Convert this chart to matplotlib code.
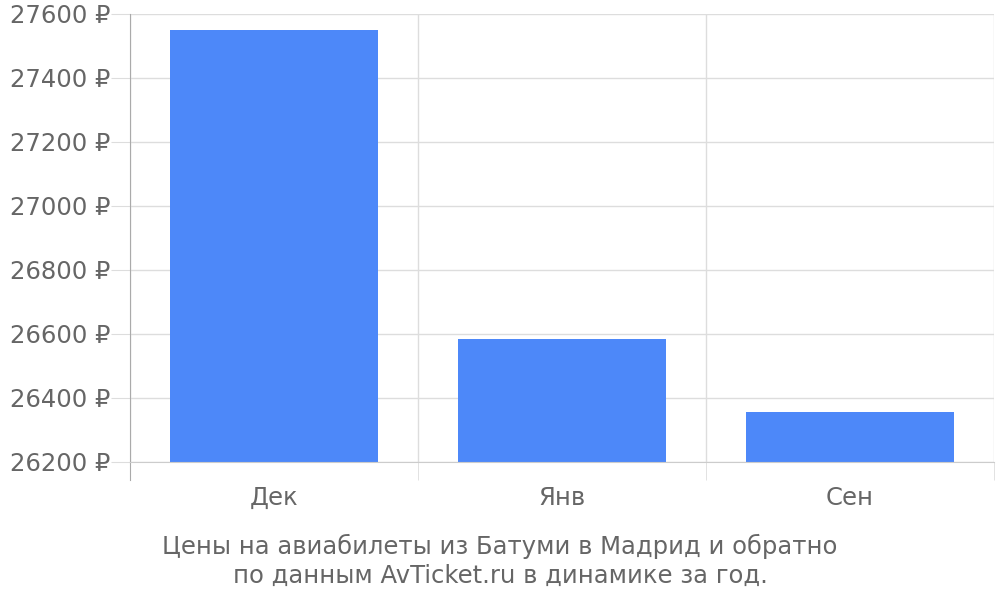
import matplotlib
matplotlib.use('Agg')
import matplotlib.pyplot as plt
from matplotlib.ticker import FuncFormatter, FixedLocator

# data
months = ['Дек', 'Янв', 'Сен']
prices = [27550, 26584, 26356]
y_ticks = [26200, 26400, 26600, 26800, 27000, 27200, 27400, 27600]
caption = 'Цены на авиабилеты из Батуми в Мадрид и обратно\nпо данным AvTicket.ru в динамике за год.'

text_col = '#666666'
grid_col = '#dddddd'
fs = 17.5

fig = plt.figure(figsize=(10, 6), dpi=100)
ax = fig.add_axes([0.13, 0.23, 0.864, 0.747])

x = list(range(len(months)))
ax.bar(x, [p - y_ticks[0] for p in prices], bottom=y_ticks[0], width=0.72,
       color='#4d88f9', zorder=3)

ax.set_xlim(-0.5, len(months) - 0.5)
ax.set_ylim(y_ticks[0], y_ticks[-1])
ax.set_yticks(y_ticks)
ax.yaxis.set_major_formatter(FuncFormatter(lambda v, p: f'{int(v)} ₽'))
ax.set_xticks(x)
ax.set_xticklabels(months)
ax.xaxis.set_minor_locator(FixedLocator([i - 0.5 for i in range(len(months) + 1)]))

ax.grid(axis='y', which='major', color=grid_col, linewidth=1, zorder=0)
ax.grid(axis='x', which='minor', color=grid_col, linewidth=1, zorder=0)

ax.tick_params(axis='y', length=14, color=grid_col, labelsize=fs, labelcolor=text_col, pad=0)
ax.tick_params(axis='x', which='major', length=0, labelsize=fs, labelcolor=text_col, pad=17)
ax.tick_params(axis='x', which='minor', length=13, color=grid_col)

for s in ['top', 'right']:
    ax.spines[s].set_visible(False)
ax.spines['left'].set_color('#aaaaaa')
ax.spines['left'].set_bounds(y_ticks[0] - 57, y_ticks[-1])
ax.spines['left'].set_zorder(4)
ax.spines['bottom'].set_color('#cccccc')
ax.spines['bottom'].set_zorder(4)

fig.text(0.5, 1 - 534 / 600, caption, ha='center', va='top', fontsize=fs,
         color=text_col, linespacing=1.25)

fig.savefig('out.png', dpi=100)
